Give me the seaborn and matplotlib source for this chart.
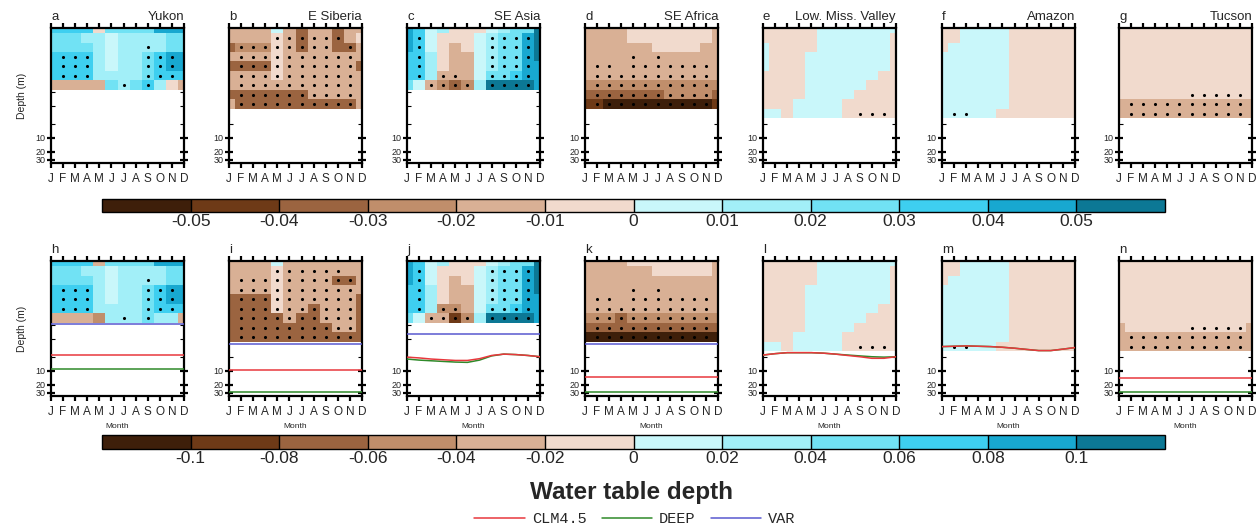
import numpy as np
import matplotlib
matplotlib.use("Agg")
import matplotlib.pyplot as plt
from matplotlib.colors import ListedColormap, BoundaryNorm
from matplotlib.cm import ScalarMappable
from matplotlib.ticker import FixedLocator, NullFormatter
from matplotlib.lines import Line2D
import seaborn as sns

sns.set_theme(style="white")
plt.rcParams["font.family"] = ["Liberation Sans", "DejaVu Sans"]

# ---------------- data ----------------
MONTHS = ["J", "F", "M", "A", "M", "J", "J", "A", "S", "O", "N", "D"]
REGIONS = ["Yukon", "E Siberia", "SE Asia", "SE Africa", "Low. Miss. Valley", "Amazon", "Tucson"]
LETTERS_TOP = ["a", "b", "c", "d", "e", "f", "g"]
LETTERS_BOT = ["h", "i", "j", "k", "l", "m", "n"]

# soil layer interface depths (m)
LAYER_EDGES = [0.0406, 0.052, 0.084, 0.135, 0.217, 0.349, 0.562, 0.905, 1.455, 2.34, 3.77]

TOP_TICKS = [-0.05, -0.04, -0.03, -0.02, -0.01, 0, 0.01, 0.02, 0.03, 0.04, 0.05]
TOP_TICKLABELS = ["-0.05", "-0.04", "-0.03", "-0.02", "-0.01", "0", "0.01", "0.02", "0.03", "0.04", "0.05"]
BOT_TICKS = [-0.1, -0.08, -0.06, -0.04, -0.02, 0, 0.02, 0.04, 0.06, 0.08, 0.1]
BOT_TICKLABELS = ["-0.1", "-0.08", "-0.06", "-0.04", "-0.02", "0", "0.02", "0.04", "0.06", "0.08", "0.1"]

PALETTE = ["#3e1f0a", "#6e3a17", "#9b6440", "#c08e6b", "#d9b095", "#f1dacd",
           "#c9f7fa", "#a2eff8", "#71e2f4", "#3ecff0", "#18a8d0", "#0c7895"]

# cell classes: 'a'..'l' = colour class 0..11 (dark brown .. dark teal);
# upper case = significant (stippled). rows: top layer -> bottom layer, columns J..D
yukon_top = ["jjjjfiiiikkk", "iiihhghhhhii", "iiiihghhHhii", "jJJJhghhIJKk",
             "jJJJhghhIJKk", "jJJJhhhhIJJj", "eeeeeiHiJhfe"]
esib_top = ["eeeegeceecee", "eeeeFECEECef", "cDDDFECEEcCE", "eEEEFEEEEEEE",
            "cCCCFEEEEEEC", "eEEEFEEEEEEE", "eEEEEEEEEEEE", "cCCCCCCEEEEe", "eCCCCCCCCCCe"]
seasia_top = ["kjghfffghiil", "kJgfffgHIIKl", "kJgfefgHIIKl", "jJhfeegHIIKl",
              "jJhfeegHIIKk", "jJhEEegIIJKk", "igEDCDhLLLLk"]
seafr_top = ["eeeefffffffe", "eeeefffffffe", "eeeeeeffffee", "eeeeEeEeeeee",
             "eEEeEEEEEEEe", "eEEEEEEEEEEe", "dDDDDDDDDDDd", "cCCCCCCDDDDc", "bBAAAAAAAAAb"]
lmv_top = ["fffffggggggg", "fffffggggggf", "gffffggggggf", "gfffgggggggf", "gfffgggggggf",
           "ffffggggggff", "ffffgggggfff", "ffffggggffff", "fffggggfffff", "ggfggggfFFFf"]
amazon_top = ["ffggggffffff", "ffggggffffff", "fgggggffffff", "ggggggffffff", "ggggggffffff",
              "ggggggffffff", "ggggggffffff", "ggggggffffff", "ggggggffffff", "gGGggfffffff"]
tucson_top = ["ffffffffffff", "ffffffffffff", "ffffffffffff", "ffffffffffff", "ffffffffffff",
              "ffffffffffff", "ffffffffffff", "ffffffFFFFFf", "eEEEEEEEEEEe", "eEEEEEEEEEEe"]

yukon_bot = ["jjjjeiiiikkk", "iiihhghhhhii", "iiiihghhHhii", "jJJJhghhIJKk",
             "jJJJhghhIJKk", "jJJJhhhhIJJj", "eeeedhHhIhhe"]
esib_bot = ["eeeegeeeeeee", "eeeeFEEEEEee", "eEEEFEEEECCe", "eEEEFEEEEEEe",
            "cCCCFEEEEEEc", "cCCCFEECEEEc", "cCCCCECCEEEc", "cCCCCCCCCEEc", "cCCCCCCCCCCc"]
seasia_bot = ["kjghfffghiil", "kJgfffgHIIKl", "kJgfefgHIIKl", "jJhfeegHIIKl",
              "jJhfeegHIIKk", "jJhDDegIIJKk", "igEEBDhLLLLk"]
seafr_bot = ["eeeefffffffe", "eeeeeefffffe", "eeeeeeeeeeee", "eeeeEeEeeeee",
             "eEEeEEEEEEEe", "eEEEEEEEEEEe", "dDDCDDDDDDDd", "cCCCCCCCCCCc", "aAAAAAAAAAAa"]
lmv_bot = ["fffffggggggg", "fffffggggggf", "fffffggggggf", "ffffgggggggf", "ffffgggggggf",
           "ffffggggggff", "ffffgggggfff", "ffffggggffff", "fffggggfffff", "ggfggggfFFFf"]
amazon_bot = ["ffggggffffff", "ffggggffffff", "fgggggffffff", "ggggggffffff", "ggggggffffff",
              "ggggggffffff", "ggggggffffff", "ggggggffffff", "ggggggffffff", "gGGggfffffff"]
tucson_bot = ["ffffffffffff", "ffffffffffff", "ffffffffffff", "ffffffffffff", "ffffffffffff",
              "ffffffffffff", "ffffffffffff", "efffffFFFFFe", "eEEEEEEEEEEe", "eEEEEEEEEEEe"]

# water table depth (m) per month, bottom-row panels
wt_clm = [
    [4.5, 4.5, 4.5, 4.5, 4.5, 4.5, 4.5, 4.5, 4.5, 4.5, 4.5, 4.5],
    [9.5, 9.5, 9.5, 9.5, 9.5, 9.5, 9.5, 9.5, 9.5, 9.5, 9.5, 9.5],
    [5.0, 5.2, 5.5, 5.7, 5.9, 5.9, 5.4, 4.6, 4.3, 4.4, 4.6, 4.9],
    [13.7, 13.7, 13.7, 13.7, 13.7, 13.7, 13.7, 13.7, 13.7, 13.7, 13.7, 13.7],
    [4.5, 4.2, 4.0, 4.0, 4.0, 4.1, 4.3, 4.6, 4.9, 5.3, 5.3, 4.9],
    [2.95, 2.9, 2.85, 2.9, 2.95, 3.05, 3.2, 3.4, 3.6, 3.6, 3.35, 3.1],
    [13.9, 13.9, 13.9, 13.9, 13.9, 13.9, 13.9, 13.9, 13.9, 13.9, 13.9, 13.9],
]
wt_deep = [
    [9.2, 9.2, 9.2, 9.2, 9.2, 9.2, 9.2, 9.2, 9.2, 9.2, 9.2, 9.2],
    [28, 28, 28, 28, 28, 28, 28, 28, 28, 28, 28, 28],
    [5.5, 5.8, 6.0, 6.2, 6.4, 6.5, 5.8, 4.7, 4.3, 4.4, 4.6, 4.9],
    [28, 28, 28, 28, 28, 28, 28, 28, 28, 28, 28, 28],
    [4.5, 4.2, 4.0, 4.0, 4.0, 4.1, 4.3, 4.5, 4.7, 4.9, 5.0, 4.9],
    [2.95, 2.9, 2.85, 2.9, 2.95, 3.05, 3.2, 3.4, 3.6, 3.6, 3.35, 3.1],
    [28, 28, 28, 28, 28, 28, 28, 28, 28, 28, 28, 28],
]
wt_var = [
    [0.95, 0.95, 0.95, 0.95, 0.95, 0.95, 0.95, 0.95, 0.95, 0.95, 0.95, 0.95],
    [2.55, 2.55, 2.55, 2.55, 2.55, 2.55, 2.55, 2.55, 2.55, 2.55, 2.55, 2.55],
    [1.55, 1.55, 1.55, 1.55, 1.55, 1.55, 1.55, 1.55, 1.55, 1.55, 1.55, 1.55],
    [2.55, 2.55, 2.55, 2.55, 2.55, 2.55, 2.55, 2.55, 2.55, 2.55, 2.55, 2.55],
    None, None, None,
]

TOP_PANELS = [yukon_top, esib_top, seasia_top, seafr_top, lmv_top, amazon_top, tucson_top]
BOT_PANELS = [yukon_bot, esib_bot, seasia_bot, seafr_bot, lmv_bot, amazon_bot, tucson_bot]

LINE_COLORS = {"CLM4.5": "#e8383d", "DEEP": "#2f8a2a", "VAR": "#5858d0"}

# ---------------- figure ----------------
W, H = 1257, 529
fig = plt.figure(figsize=(W / 100, H / 100), dpi=100)


def box(x0, y0, x1, y1):
    return [x0 / W, 1 - y1 / H, (x1 - x0) / W, (y1 - y0) / H]


cmap = ListedColormap(PALETTE)
norm_top = BoundaryNorm(np.linspace(-0.06, 0.06, 13), 12)
norm_bot = BoundaryNorm(np.linspace(-0.12, 0.12, 13), 12)

COL_LEFT = [51, 229, 407, 585, 763, 942, 1119]
PW = 133


def draw_panel(ax, rows, step, norm):
    cls = np.array([[ord(c.lower()) - 97 for c in r] for r in rows])
    vals = (cls - 5.5) * step
    n = len(rows)
    yedges = np.array(LAYER_EDGES[: n + 1])
    xedges = np.arange(13) - 0.5
    ax.pcolormesh(xedges, yedges, vals, cmap=cmap, norm=norm, shading="flat",
                  edgecolors="none", antialiased=False, zorder=1)
    xs, ys = [], []
    for i, r in enumerate(rows):
        for j, c in enumerate(r):
            if c.isupper():
                xs.append(j)
                ys.append(np.sqrt(yedges[i] * yedges[i + 1]))
    if xs:
        sns.scatterplot(x=xs, y=ys, ax=ax, color="black", s=5, linewidth=0,
                        legend=False, zorder=4)


def style_axis(ax, first, bottom_row):
    ax.set_yscale("log")
    ax.set_ylim(35, 0.0406)
    ax.set_xlim(0, 11)
    ax.set_xticks(range(12))
    ax.set_xticklabels(MONTHS)
    ax.tick_params(axis="x", which="major", direction="out", top=True, bottom=True,
                   labeltop=False, length=3.5, width=1.6, labelsize=8.5, pad=4, color="black")
    ax.yaxis.set_major_locator(FixedLocator([10, 20, 30]))
    ax.set_yticklabels(["10", "20", "30"])
    ax.yaxis.set_minor_locator(FixedLocator([1, 2, 5]))
    ax.yaxis.set_minor_formatter(NullFormatter())
    ax.tick_params(axis="y", which="major", direction="inout", left=True, right=True,
                   length=6, width=1.6, labelsize=6.5, pad=1, color="black")
    ax.tick_params(axis="y", which="minor", direction="in", left=True, right=True,
                   length=3, width=0.8, color="black")
    for s in ax.spines.values():
        s.set_linewidth(1.6)
        s.set_color("black")
    ax.set_ylabel("Depth (m)" if first else "", fontsize=7.5, labelpad=6)
    ax.set_xlabel("Month" if bottom_row else "", fontsize=6, labelpad=3)
    ax.grid(False)


for k in range(7):
    # top row
    ax = fig.add_axes(box(COL_LEFT[k], 28, COL_LEFT[k] + PW, 163))
    draw_panel(ax, TOP_PANELS[k], 0.01, norm_top)
    style_axis(ax, k == 0, False)
    ax.text(0.0, 1.035, LETTERS_TOP[k], transform=ax.transAxes, ha="left", va="bottom", fontsize=9.5)
    ax.text(1.0, 1.035, REGIONS[k], transform=ax.transAxes, ha="right", va="bottom", fontsize=9.5)

    # bottom row
    ax = fig.add_axes(box(COL_LEFT[k], 261, COL_LEFT[k] + PW, 396))
    draw_panel(ax, BOT_PANELS[k], 0.02, norm_bot)
    mx = np.arange(12)
    if wt_var[k] is not None:
        sns.lineplot(x=mx, y=wt_var[k], ax=ax, color=LINE_COLORS["VAR"], linewidth=1.1,
                     legend=False, zorder=5)
    sns.lineplot(x=mx, y=wt_deep[k], ax=ax, color=LINE_COLORS["DEEP"], linewidth=1.1,
                 legend=False, zorder=5)
    sns.lineplot(x=mx, y=wt_clm[k], ax=ax, color=LINE_COLORS["CLM4.5"], linewidth=1.1,
                 legend=False, zorder=5)
    style_axis(ax, k == 0, True)
    ax.text(0.0, 1.035, LETTERS_BOT[k], transform=ax.transAxes, ha="left", va="bottom", fontsize=9.5)

# colorbars
for (y0, y1, norm, ticks, labels) in [(199, 212, norm_top, TOP_TICKS, TOP_TICKLABELS),
                                      (435, 449, norm_bot, BOT_TICKS, BOT_TICKLABELS)]:
    cax = fig.add_axes(box(102, y0, 1165, y1))
    cb = fig.colorbar(ScalarMappable(norm=norm, cmap=cmap), cax=cax, orientation="horizontal",
                      ticks=ticks, drawedges=True, spacing="uniform")
    cb.ax.minorticks_off()
    cb.ax.set_xticklabels(labels)
    cb.ax.tick_params(which="both", length=0, labelsize=12.5, pad=1.5)
    cb.outline.set_linewidth(1.0)
    cb.outline.set_edgecolor("black")
    cb.dividers.set_color("black")
    cb.dividers.set_linewidth(1.0)

fig.text(632 / W, 1 - 493 / H, "Water table depth", ha="center", va="center",
         fontsize=17.5, fontweight="bold")

handles = [Line2D([], [], color=LINE_COLORS[n], lw=1.1) for n in ["CLM4.5", "DEEP", "VAR"]]
fig.legend(handles, ["CLM4.5", "DEEP", "VAR"], loc="center", bbox_to_anchor=(635 / W, 1 - 519 / H),
           ncol=3, frameon=False, prop={"family": ["Liberation Mono", "DejaVu Sans Mono"], "size": 11},
           handlelength=3.3, columnspacing=1.0, handletextpad=0.45)

fig.savefig("out.png", dpi=100)
